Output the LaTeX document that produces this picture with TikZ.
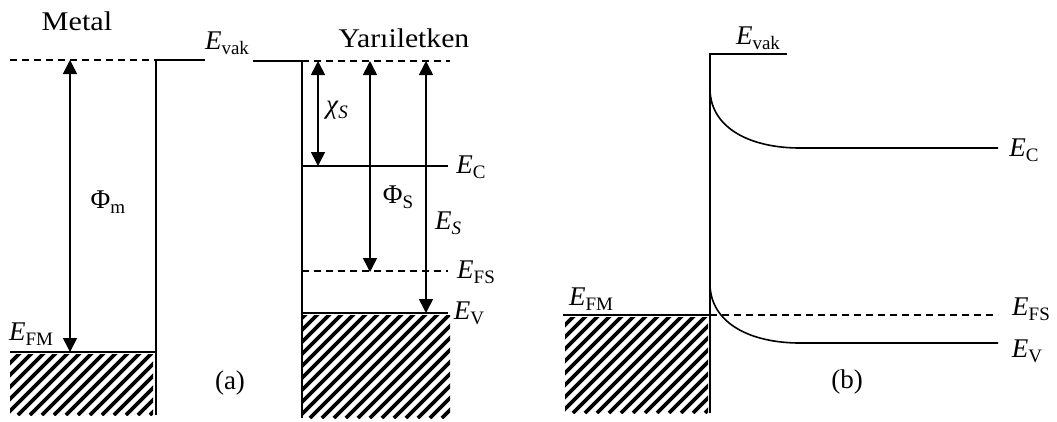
\documentclass[tikz,border=0pt]{standalone}
\usepackage{fontspec}
\setmainfont{Liberation Serif}
\usetikzlibrary{arrows.meta}
\newcommand{\lsub}[1]{\raisebox{-0.4ex}{\fontsize{19}{19}\selectfont #1}}
\newcommand{\En}[1]{\textit{E}\lsub{#1}}
\newcommand{\hatchbox}[4]{%
  \begin{scope}
    \clip (#1,#2) rectangle (#3,#4);
    \foreach \k in {-160,-148,...,200} {\draw[line width=3.6pt] (#1+\k,#4) -- ++(160,-160);}
  \end{scope}}
\begin{document}
\begin{tikzpicture}[x=1pt,y=-1pt, line width=1.6pt,
  lbl/.style={font=\fontsize{27}{31}\selectfont, inner sep=0pt},
  dsh/.style={dash pattern=on 7pt off 5pt, line width=1.3pt},
  dbl/.style={{Triangle[width=14pt,length=14pt]}-{Triangle[width=14pt,length=14pt]}, line width=1.6pt},
]
\useasboundingbox (0,0) rectangle (1057,421);
\fill[white] (0,0) rectangle (1057,421);

% ---------- panel (a) ----------
\coordinate (mvL) at (10,60);
\coordinate (mvR) at (156,60);
\coordinate (mBot) at (156,415);
\coordinate (vA1) at (205,60);
\coordinate (vA2) at (253,61);
\coordinate (sTop) at (302,61);
\coordinate (sBot) at (302,418);
\coordinate (sDR) at (450,61);

\draw[dsh] (mvL) -- (mvR);
\draw (mBot) -- (mvR) -- (vA1);
\draw (vA2) -- (sTop) -- (sBot);
\draw[dsh] (sTop) -- (sDR);

\node[lbl] (metal) at (77,21) {\scalebox{1.12}[1]{Metal}};
\node[lbl] (evakA) at (227,43) {\En{vak}};
\node[lbl] (yari) at (404,38) {\scalebox{1.1}[1]{Yarıiletken}};

% metal Fermi level
\coordinate (fmL) at (10,352);
\coordinate (fmR) at (156,352);
\draw (fmL) -- (fmR);
\hatchbox{10}{354}{153}{415}
\node[lbl] (efmA) at (31,334) {\En{FM}};

% Phi_m arrow
\coordinate (phmT) at (70,60);
\coordinate (phmB) at (70,352);
\draw[dbl] (phmT) -- (phmB);
\node[lbl] (phim) at (108,202) {Φ\lsub{m}};

\node[lbl] (la) at (230,383) {(a)};

% semiconductor levels
\coordinate (ecL) at (302,166);
\coordinate (ecR) at (448,166);
\coordinate (efsL) at (302,271);
\coordinate (efsR) at (448,271);
\coordinate (evL) at (302,313);
\coordinate (evR) at (448,313);
\draw (ecL) -- (ecR);
\draw[dsh] (efsL) -- (efsR);
\draw (evL) -- (evR);
\hatchbox{302}{315}{450}{418}

\node[lbl] (ecA) at (471,167) {\En{C}};
\node[lbl] (efsA) at (476,272) {\En{FS}};
\node[lbl] (evA) at (469,313) {\En{V}};

% arrows
\coordinate (chiT) at (318,61);
\coordinate (chiB) at (318,166);
\draw[dbl] (chiT) -- (chiB);
\node[lbl] (chi) at (337,110) {\textit{χ}\lsub{\textit{S}}};

\coordinate (phsT) at (370,61);
\coordinate (phsB) at (370,272);
\draw[dbl] (phsT) -- (phsB);
\node[lbl] (phis) at (398,197) {Φ\lsub{S}};

\coordinate (esT) at (426,61);
\coordinate (esB) at (426,313);
\draw[dbl] (esT) -- (esB);
\node[lbl] (es) at (448,223) {\textit{E}\lsub{\textit{S}}};

% ---------- panel (b) ----------
\coordinate (bBot) at (710,413);
\coordinate (bTop) at (710,54);
\coordinate (bVR) at (787,54);
\draw (bBot) -- (bTop) -- (bVR);
\node[lbl] (evakB) at (758,38) {\En{vak}};

\coordinate (bc0) at (710,90);
\coordinate (bc1) at (800,148);
\coordinate (bc2) at (998,148);
\draw (bc0) .. controls (711,128) and (750,148) .. (bc1) -- (bc2);
\node[lbl] (ecB) at (1024,150) {\En{C}};

\coordinate (bfmL) at (563,315);
\coordinate (bfmR) at (710,315);
\coordinate (bfsR) at (998,315);
\draw (bfmL) -- (bfmR);
\draw[dsh] (bfmR) -- (bfsR);
\hatchbox{565}{317}{708}{413}
\node[lbl] (efmB) at (591,299) {\En{FM}};
\node[lbl] (efsB) at (1031,309) {\En{FS}};

\coordinate (bv0) at (710,285);
\coordinate (bv1) at (800,343);
\coordinate (bv2) at (998,343);
\draw (bv0) .. controls (711,323) and (750,343) .. (bv1) -- (bv2);
\node[lbl] (evB) at (1027,351) {\En{V}};

\node[lbl] (lb) at (847,382) {(b)};
\end{tikzpicture}
\end{document}
